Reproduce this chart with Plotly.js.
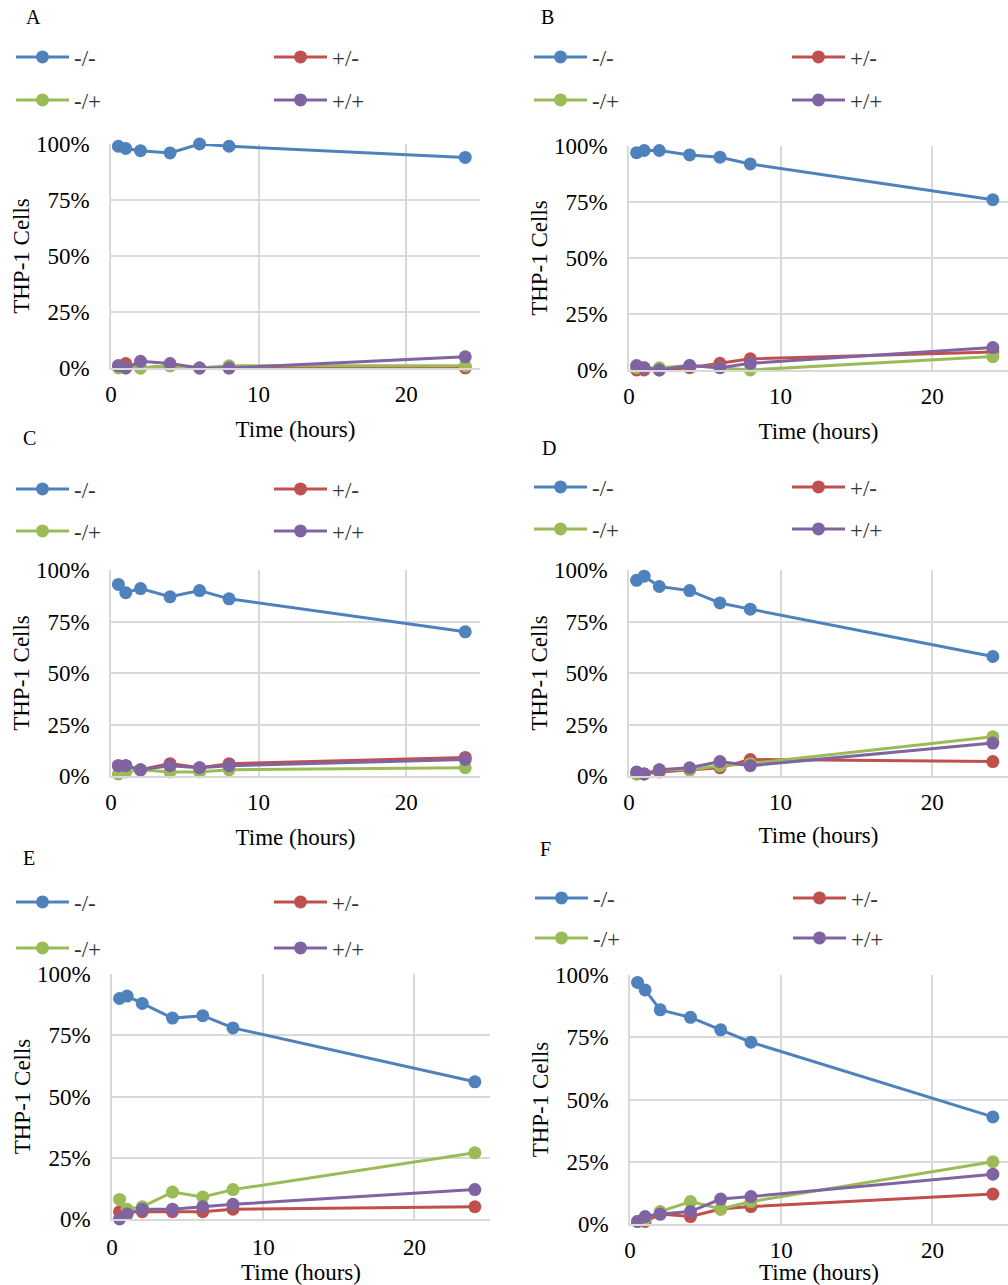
<!DOCTYPE html>
<html><head><meta charset="utf-8">
<script src="https://cdn.plot.ly/plotly-3.0.1.min.js"></script>
<style>html,body{margin:0;padding:0;background:#fff}#chart{width:1008px;height:1285px}</style>
</head><body><div id="chart"></div>
<script>
// ---- data ----
const hours = [0.5, 1, 2, 4, 6, 8, 24];
const seriesNames = ['-/-', '+/-', '-/+', '+/+'];
const panelLabels = ['A', 'B', 'C', 'D', 'E', 'F'];
const yTitle = 'THP-1 Cells';
const xTitle = 'Time (hours)';

// percent of THP-1 cells
const A_mm = [99, 98, 97, 96, 100, 99, 94];
const A_pm = [1, 2, 0, 1, 0, 0, 0];
const A_mp = [0, 0, 0, 1, 0, 1, 1];
const A_pp = [1, 0, 3, 2, 0, 0, 5];

const B_mm = [97, 98, 98, 96, 95, 92, 76];
const B_pm = [0, 0, 0, 1, 3, 5, 8];
const B_mp = [1, 1, 1, 2, 1, 0, 6];
const B_pp = [2, 1, 0, 2, 1, 3, 10];

const C_mm = [93, 89, 91, 87, 90, 86, 70];
const C_pm = [5, 5, 3, 6, 4, 6, 9];
const C_mp = [1, 2, 3, 2, 2, 3, 4];
const C_pp = [5, 5, 3, 5, 4, 5, 8];

const D_mm = [95, 97, 92, 90, 84, 81, 58];
const D_pm = [1, 1, 2, 3, 4, 8, 7];
const D_mp = [1, 1, 3, 3, 5, 6, 19];
const D_pp = [2, 1, 3, 4, 7, 5, 16];

const E_mm = [90, 91, 88, 82, 83, 78, 56];
const E_pm = [3, 3, 3, 3, 3, 4, 5];
const E_mp = [8, 4, 5, 11, 9, 12, 27];
const E_pp = [0, 2, 4, 4, 5, 6, 12];

const F_mm = [97, 94, 86, 83, 78, 73, 43];
const F_pm = [1, 1, 4, 3, 6, 7, 12];
const F_mp = [1, 2, 5, 9, 6, 9, 25];
const F_pp = [1, 3, 4, 5, 10, 11, 20];

const panelSeries = [
  [A_mm, A_pm, A_mp, A_pp],
  [B_mm, B_pm, B_mp, B_pp],
  [C_mm, C_pm, C_mp, C_pp],
  [D_mm, D_pm, D_mp, D_pp],
  [E_mm, E_pm, E_mp, E_pp],
  [F_mm, F_pm, F_mp, F_pp]
];
const xTicks = [0, 10, 20];
const yTicks = [0, 25, 50, 75, 100];
const yTickText = ['0%', '25%', '50%', '75%', '100%'];

// ---- styling / layout geometry (pixels) ----
const W = 1008, H = 1285;
const colors = ['#4F81BD', '#C0504D', '#9BBB59', '#8064A2'];
const FONT = 'Liberation Serif';
function serif(size, color) { return {family: FONT, size: size, color: color || '#000'}; }
// plot area: left, right, top(100%), bottom(0%); legend x + row centres; panel letter; x tick standoff; x title standoff
const geom = [
  {l: 111, r: 480, t: 144, b: 368, leg: [11, 57, 100], lab: [33, 17], xs: 5, ts: 15},
  {l: 629, r: 1008, t: 146, b: 370, leg: [529, 57, 100], lab: [547, 17], xs: 5, ts: 15},
  {l: 111, r: 480, t: 570, b: 776, leg: [11, 489, 531], lab: [29, 438], xs: 5, ts: 15},
  {l: 629, r: 1008, t: 570, b: 776, leg: [529, 487, 529], lab: [549, 448], xs: 5, ts: 13},
  {l: 112, r: 490, t: 974, b: 1219, leg: [11, 902, 948], lab: [29, 858], xs: 7, ts: 0},
  {l: 630, r: 1008, t: 975, b: 1224, leg: [530, 898, 938], lab: [545, 849], xs: 5, ts: 0}
];

const data = [];
const layout = {
  width: W, height: H,
  margin: {l: 0, r: 0, t: 0, b: 0, autoexpand: false},
  paper_bgcolor: '#fff', plot_bgcolor: 'rgba(0,0,0,0)',
  font: serif(23),
  showlegend: true,
  annotations: []
};

panelSeries.forEach((series, p) => {
  const g = geom[p];
  const n = p + 1;
  const xa = 'xaxis' + (n === 1 ? '' : n), ya = 'yaxis' + (n === 1 ? '' : n);
  const xr = 'x' + (n === 1 ? '' : n), yr = 'y' + (n === 1 ? '' : n);
  const leg1 = 'legend' + (2 * p + 1 === 1 ? '' : 2 * p + 1);
  const leg2 = 'legend' + (2 * p + 2);
  series.forEach((vals, s) => {
    data.push({
      type: 'scatter', mode: 'lines+markers',
      x: hours, y: vals, name: seriesNames[s],
      xaxis: xr, yaxis: yr,
      legend: s < 2 ? leg1 : leg2,
      legendwidth: (s % 2 === 0) ? 190 : 50,
      line: {color: colors[s], width: 3},
      marker: {color: colors[s], size: 13},
      cliponaxis: false,
      hoverinfo: 'x+y+name'
    });
  });
  layout[xa] = {
    domain: [g.l / W, g.r / W], anchor: yr,
    range: [0, 25], tickmode: 'array', tickvals: xTicks, ticks: '',
    showgrid: true, gridcolor: '#d9d9d9', gridwidth: 1.5,
    showline: true, linecolor: '#d9d9d9', linewidth: 1.5,
    zeroline: false, ticklabelstandoff: g.xs,
    tickfont: serif(23),
    automargin: true,
    title: {text: xTitle, font: serif(23), standoff: g.ts}
  };
  layout[ya] = {
    domain: [1 - g.b / H, 1 - g.t / H], anchor: xr,
    range: [0, 100], tickmode: 'array', tickvals: yTicks, ticktext: yTickText, ticks: '',
    showgrid: true, gridcolor: '#d9d9d9', gridwidth: 1.5,
    showline: true, linecolor: '#d9d9d9', linewidth: 1.5,
    zeroline: false, ticklabelstandoff: 15,
    tickfont: serif(23),
    automargin: true,
    title: {text: yTitle, font: serif(23), standoff: 0}
  };
  const legBase = {
    orientation: 'h', xanchor: 'left', yanchor: 'middle',
    x: g.leg[0] / W, bgcolor: 'rgba(0,0,0,0)', borderwidth: 0,
    itemwidth: 53, itemclick: false, itemdoubleclick: false,
    font: serif(23, '#333')
  };
  layout[leg1] = Object.assign({}, legBase, {y: 1 - g.leg[1] / H});
  layout[leg2] = Object.assign({}, legBase, {y: 1 - g.leg[2] / H});
  layout.annotations.push({
    text: panelLabels[p], xref: 'paper', yref: 'paper',
    x: g.lab[0] / W, y: 1 - g.lab[1] / H, xanchor: 'center', yanchor: 'middle',
    showarrow: false, font: serif(20)
  });
});

Plotly.newPlot('chart', data, layout, {displayModeBar: false});
</script>
</body></html>
